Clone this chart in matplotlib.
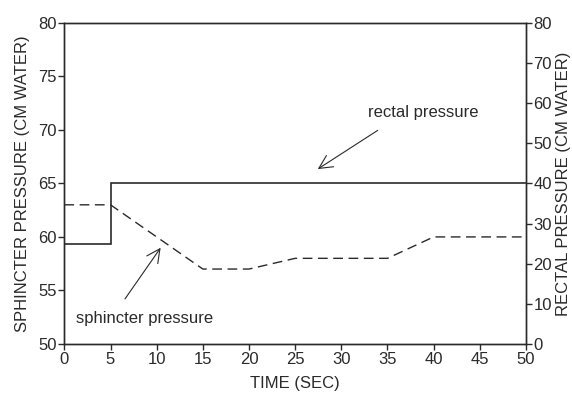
import matplotlib

matplotlib.use("Agg")
import matplotlib.pyplot as plt

plt.rcParams["font.family"] = ["Liberation Sans", "DejaVu Sans"]

# rectal pressure (right axis, cm water)
rectal_t = [0, 5, 5, 50]
rectal_p = [25, 25, 40, 40]

# sphincter pressure (left axis, cm water)
sph_t = [0, 5, 15, 20, 25, 35, 40, 50]
sph_p = [63, 63, 57, 57, 58, 58, 60, 60]

xticks = list(range(0, 51, 5))
left_ticks = list(range(50, 81, 5))
right_ticks = list(range(0, 81, 10))

ink = "#2a2a2a"
fs = 12

fig = plt.figure(figsize=(5.72, 3.94), dpi=100)
ax = fig.add_axes([0.1125, 0.127, 0.807, 0.815])
ax2 = ax.twinx()

ax2.plot(rectal_t, rectal_p, color=ink, lw=1.2, solid_joinstyle="miter")
ax.plot(sph_t, sph_p, color=ink, lw=1.0, ls=(0, (7, 4)))

ax.set_xlim(0, 50)
ax.set_ylim(50, 80)
ax2.set_ylim(0, 80)
ax.set_xticks(xticks)
ax.set_yticks(left_ticks)
ax2.set_yticks(right_ticks)

for a in (ax, ax2):
    a.tick_params(direction="out", length=4, width=1, labelsize=fs,
                  colors=ink, pad=1.5)
    for s in a.spines.values():
        s.set_color(ink)
        s.set_linewidth(1.0)

ax.set_xlabel("TIME (SEC)", fontsize=fs, color=ink, labelpad=7)
ax.set_ylabel("SPHINCTER PRESSURE (CM WATER)", fontsize=fs, color=ink,
              labelpad=6)
ax2.set_ylabel("RECTAL PRESSURE (CM WATER)", fontsize=fs, color=ink,
               labelpad=3)

arrow = dict(arrowstyle="->", color=ink, lw=0.8, mutation_scale=24)
ax.annotate("", xy=(27.2, 66.2), xytext=(34.2, 70.1), arrowprops=arrow)
ax.text(38.9, 71.6, "rectal pressure", ha="center", va="center",
        fontsize=fs, color=ink)
ax.annotate("", xy=(10.6, 59.2), xytext=(6.4, 54.0), arrowprops=arrow)
ax.text(1.3, 52.4, "sphincter pressure", ha="left", va="center",
        fontsize=fs, color=ink)

fig.savefig("out.png", dpi=100)
